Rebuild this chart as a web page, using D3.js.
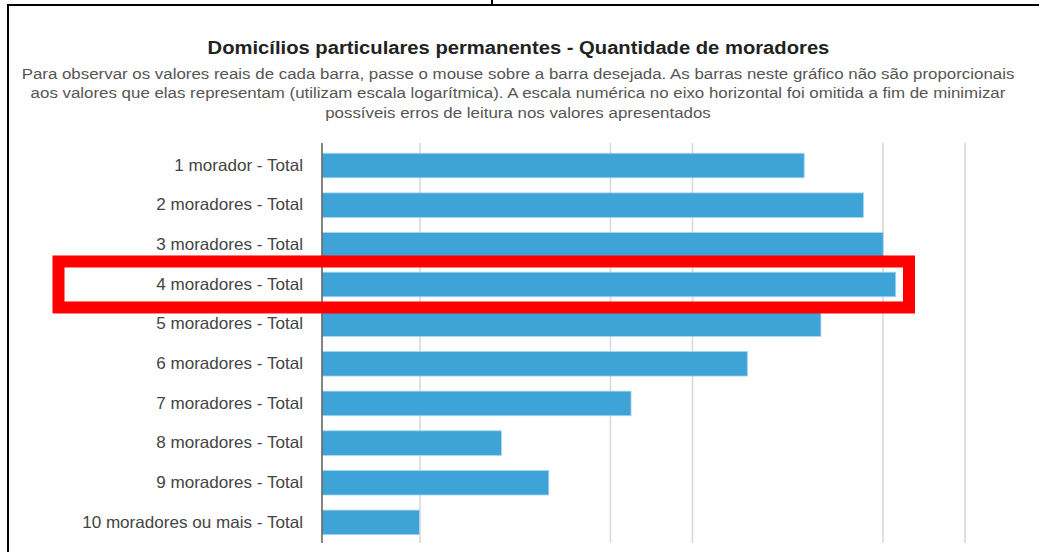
<!DOCTYPE html>
<html>
<head>
<meta charset="utf-8">
<script src="https://cdn.jsdelivr.net/npm/d3@7"></script>
<style>
  body { margin: 0; background: #fff; }
  svg { display: block; font-family: "Liberation Sans", Arial, sans-serif; }
</style>
</head>
<body>
<div id="chart"></div>
<script>
// categories and values (log scale)
const categorias = [
    "1 morador - Total",
    "2 moradores - Total",
    "3 moradores - Total",
    "4 moradores - Total",
    "5 moradores - Total",
    "6 moradores - Total",
    "7 moradores - Total",
    "8 moradores - Total",
    "9 moradores - Total",
    "10 moradores ou mais - Total"
]
const valores = [25700, 42400, 50100, 55700, 29600, 15900, 5950, 1990, 2970, 995]
const gridValores = [1000, 5000, 10000, 50000, 100000]
const destaque = "4 moradores - Total"

const titulo = "Domicílios particulares permanentes - Quantidade de moradores"
const subtitulo = [
    "Para observar os valores reais de cada barra, passe o mouse sobre a barra desejada. As barras neste gráfico não são proporcionais",
    "aos valores que elas representam (utilizam escala logarítmica). A escala numérica no eixo horizontal foi omitida a fim de minimizar",
    "possíveis erros de leitura nos valores apresentados"
]

const width = 1039, height = 552
const margin = { top: 145.7, bottom: 10, left: 322, right: 74 }

// the screenshot text is a bit wider than Liberation Sans, stretch it
function stretch(sel, factor) {
    sel.each(function () {
        const len = this.getComputedTextLength()
        d3.select(this)
            .attr("textLength", len * factor)
            .attr("lengthAdjust", "spacingAndGlyphs")
    })
}

const svg = d3.select("#chart")
    .append("svg")
    .attr("width", width)
    .attr("height", height)

// frame of the screenshot
svg.append("rect")
    .attr("x", 8).attr("y", 5)
    .attr("width", width + 10).attr("height", height + 10)
    .attr("fill", "none")
    .attr("stroke", "#000")
    .attr("stroke-width", 2)
svg.append("line")
    .attr("x1", 492).attr("x2", 492)
    .attr("y1", 0).attr("y2", 5)
    .attr("stroke", "#000").attr("stroke-width", 2)

// titles
svg.append("text")
    .attr("x", 518.5).attr("y", 54)
    .attr("text-anchor", "middle")
    .attr("font-size", 17.5)
    .attr("font-weight", "bold")
    .attr("fill", "#222")
    .text(titulo)
    .call(stretch, 1.154)

svg.selectAll("text.sub")
    .data(subtitulo)
    .enter()
    .append("text")
    .attr("class", "sub")
    .attr("x", 518)
    .attr("y", (d, i) => 78.5 + i * 19.5)
    .attr("text-anchor", "middle")
    .attr("font-size", 15.5)
    .attr("fill", "#555")
    .text(d => d)
    .call(stretch, 1.089)

// scales
const xScale = d3.scaleLog()
    .domain([437, 100000])
    .range([margin.left, 965])

const yScale = d3.scaleBand()
    .domain(categorias)
    .range([margin.top, 542.2])
    .paddingInner(0.38)
    .paddingOuter(0.19)

// gridlines
svg.selectAll("line.grid")
    .data(gridValores)
    .enter()
    .append("line")
    .attr("class", "grid")
    .attr("x1", d => xScale(d))
    .attr("x2", d => xScale(d))
    .attr("y1", 143)
    .attr("y2", 543)
    .attr("stroke", "#d9d9d9")
    .attr("stroke-width", 1.6)

// bars
svg.selectAll("rect.bar")
    .data(valores)
    .enter()
    .append("rect")
    .attr("class", "bar")
    .attr("x", xScale.range()[0])
    .attr("y", (d, i) => yScale(categorias[i]))
    .attr("width", d => xScale(d) - xScale.range()[0])
    .attr("height", yScale.bandwidth())
    .attr("fill", "#3ea4d7")
    .attr("stroke", "#a9d6ee")
    .attr("stroke-width", 0.8)

// axis baseline
svg.append("line")
    .attr("x1", xScale.range()[0]).attr("x2", xScale.range()[0])
    .attr("y1", 143).attr("y2", 543)
    .attr("stroke", "#666")
    .attr("stroke-width", 1.6)

// category labels
const yAxis = d3.axisLeft(yScale).tickSize(0).tickPadding(19)
const gY = svg.append("g")
    .attr("transform", `translate(${margin.left},0)`)
    .call(yAxis)
gY.select(".domain").remove()
gY.selectAll("text")
    .attr("font-size", 16.5)
    .attr("font-family", "'Liberation Sans', Arial, sans-serif")
    .attr("fill", "#444")
    .call(stretch, 1.035)

// red highlight box
svg.append("rect")
    .attr("x", 58.5)
    .attr("y", yScale(destaque) + yScale.bandwidth() / 2 - 23)
    .attr("width", 850.5)
    .attr("height", 46)
    .attr("fill", "none")
    .attr("stroke", "#ff0000")
    .attr("stroke-width", 12)
</script>
</body>
</html>
